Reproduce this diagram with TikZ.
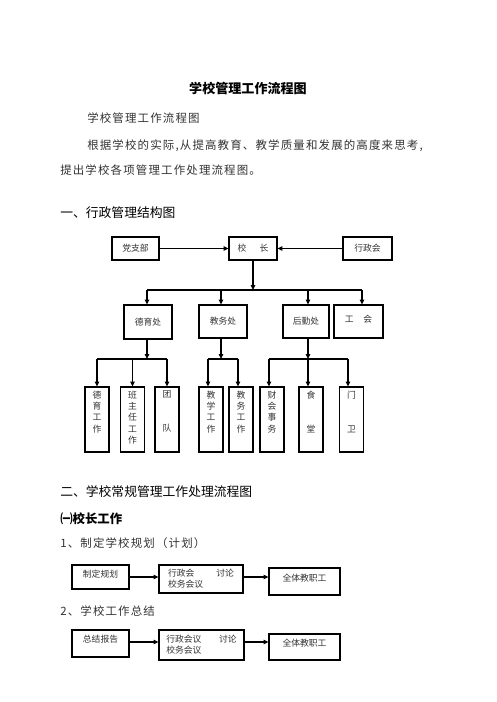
\documentclass[tikz,border=0pt]{standalone}
\usepackage{fontspec}
\setmainfont{Noto Sans CJK SC}
\newfontfamily\hei{Noto Sans CJK SC}
\newfontfamily\song[LetterSpace=10]{Noto Sans CJK SC}
\usetikzlibrary{arrows.meta}
\def\px{0.75pt}
\newcommand\bxfont{\hei\fontsize{6.6}{8.5}\selectfont}
\begin{document}
\begin{tikzpicture}[x=0.75pt,y=-0.75pt,
  box/.style 2 args={draw, line width=0.8pt, inner sep=0pt, font=\bxfont, text=black!80,
    minimum width=#1*\px, minimum height=#2*\px, align=center},
  vtxt/.style={anchor=north, inner sep=0pt, font=\bxfont, text=black!80, align=center},
  body/.style={anchor=west, inner sep=0pt, font=\song\fontsize{8.6}{10}\selectfont, text=black!80},
  head/.style={anchor=west, inner sep=0pt, font=\hei\fontsize{9.6}{11}\selectfont},
  ln/.style={line width=0.8pt},
  arr/.style={line width=0.8pt, -{Triangle[length=3.6pt,width=3.2pt]}}]
\useasboundingbox[fill=white] (0,0) rectangle (496,702);

% texts
\node[inner sep=0pt, font=\hei\bfseries\fontsize{9.8}{12}\selectfont] (title) at (248,88) {学校管理工作流程图};
\node[body] (p1) at (87,118) {学校管理工作流程图};
\node[body] (p2) at (87,146) {根据学校的实际,从提高教育、教学质量和发展的高度来思考,};
\node[body] (p3) at (60,170) {提出学校各项管理工作处理流程图。};
\node[head] (h1) at (60,213) {一、行政管理结构图};
\node[head] (h2) at (60,492) {二、学校常规管理工作处理流程图};
\node[anchor=west, inner sep=0pt, font=\hei\bfseries\fontsize{9.3}{11}\selectfont] (h3) at (60,519) {㈠校长工作};
\node[body] (h4) at (60,543) {1、制定学校规划（计划）};
\node[body] (h5) at (60,611) {2、学校工作总结};

% row 1
\node[box={47}{23}] (dzb) at (135.5,248.5) {党支部};
\node[box={48}{23}] (xz) at (253,248.5) {校\hspace{1.5em}长};
\node[box={49}{23}] (xzh) at (367.5,248.5) {行政会};
\draw[arr] (dzb.east) -- (xz.west);
\draw[arr] (xzh.west) -- (xz.east);

% row 2
\node[box={48}{34}] (dyc) at (148,322) {德育处};
\node[box={48}{33}] (jwc) at (223,321.5) {教务处};
\node[box={46}{33}] (hqc) at (306,321.5) {后勤处};
\node[box={49}{33}] (gh) at (358.5,321.5) {};
\node[vtxt, anchor=center] (ghtxt) at ([yshift=2.5*\px]gh.center) {工\hspace{1.1em}会};

\coordinate (b1) at (0,290);
\draw[arr] (xz.south) -- (xz.south |- b1);
\draw[ln] ([xshift=-1*\px]dyc.north |- b1) -- ([xshift=3.5*\px]gh.north |- b1);
\draw[arr] ([xshift=-1*\px]dyc.north |- b1) -- ([xshift=-1*\px]dyc.north);
\draw[arr] ([xshift=-2*\px]jwc.north |- b1) -- ([xshift=-2*\px]jwc.north);
\draw[arr] ([xshift=2*\px]hqc.north |- b1) -- ([xshift=2*\px]hqc.north);
\draw[arr] ([xshift=3.5*\px]gh.north |- b1) -- ([xshift=3.5*\px]gh.north);

% row 3
\foreach \n/\x/\t in {dygz/97/德\\育\\工\\作, bzr/132.5/班\\主\\任\\工\\作, td/167/团\\~\\~\\队,
  jxgz/211/教\\学\\工\\作, jwgz/241/教\\务\\工\\作, chsw/272/财\\会\\事\\务,
  st/311/食\\~\\~\\堂, mw/351.5/门\\~\\~\\卫}{
  \node[box={24}{65}] (\n) at (\x,419.5) {};
  \node[vtxt] (\n-t) at ([yshift=-4*\px]\n.north) {\t};
}

\coordinate (b2) at (0,359);
% 德育处 group
\draw[arr] ([xshift=-1*\px]dyc.south) -- ([xshift=-1*\px]dyc.south |- b2);
\draw[ln] (dygz.north |- b2) -- (td.north |- b2);
\draw[arr] (dygz.north |- b2) -- (dygz.north);
\draw[arr] (bzr.north |- b2) -- (bzr.north);
\draw[arr] (td.north |- b2) -- (td.north);
% 教务处 group
\draw[arr] ([xshift=-2*\px]jwc.south) -- ([xshift=-2*\px]jwc.south |- b2);
\draw[ln] ([xshift=-3*\px]jxgz.north |- b2) -- ([xshift=-3*\px]jwgz.north |- b2);
\draw[arr] ([xshift=-3*\px]jxgz.north |- b2) -- ([xshift=-3*\px]jxgz.north);
\draw[arr] ([xshift=-3*\px]jwgz.north |- b2) -- ([xshift=-3*\px]jwgz.north);
% 后勤处 group
\draw[arr] ([xshift=2*\px]hqc.south) -- ([xshift=2*\px]hqc.south |- b2);
\draw[ln] ([xshift=-3*\px]chsw.north |- b2) -- ([xshift=-3.5*\px]mw.north |- b2);
\draw[arr] ([xshift=-3*\px]chsw.north |- b2) -- ([xshift=-3*\px]chsw.north);
\draw[arr] ([xshift=-3*\px]st.north |- b2) -- ([xshift=-3*\px]st.north);
\draw[arr] ([xshift=-3.5*\px]mw.north |- b2) -- ([xshift=-3.5*\px]mw.north);

% flow 1
\node[box={57}{24}] (f1a) at (100.5,577) {};
\node[vtxt, anchor=center] (f1at) at ([yshift=3*\px]f1a.center) {制定规划};
\node[box={84}{28}, align=left] (f1b) at (201,579) {行政会\hspace{2.5em}讨论\\校务会议};
\node[box={71}{27}] (f1c) at (304.5,581.5) {};
\node[vtxt, anchor=center] (f1ct) at ([yshift=3.5*\px]f1c.center) {全体教职工};
\draw[arr] (f1a.east) -- (f1a.east -| f1b.west);
\draw[arr] (f1a.east -| f1b.east) -- (f1a.east -| f1c.west);

% flow 2
\node[box={57}{27}] (f2a) at (100.5,643.5) {};
\node[vtxt, anchor=center] (f2at) at ([yshift=4.5*\px]f2a.center) {总结报告};
\node[box={85}{30}, align=left] (f2b) at (201.5,645) {行政会议\hspace{2em}讨论\\校务会议};
\node[box={71}{26}] (f2c) at (304.5,647) {};
\node[vtxt, anchor=center] (f2ct) at ([yshift=4*\px]f2c.center) {全体教职工};
\draw[arr] ([yshift=1.5*\px]f2a.east) -- ([yshift=1.5*\px]f2a.east -| f2b.west);
\draw[arr] ([yshift=1.5*\px]f2a.east -| f2b.east) -- ([yshift=1.5*\px]f2a.east -| f2c.west);
\end{tikzpicture}
\end{document}
